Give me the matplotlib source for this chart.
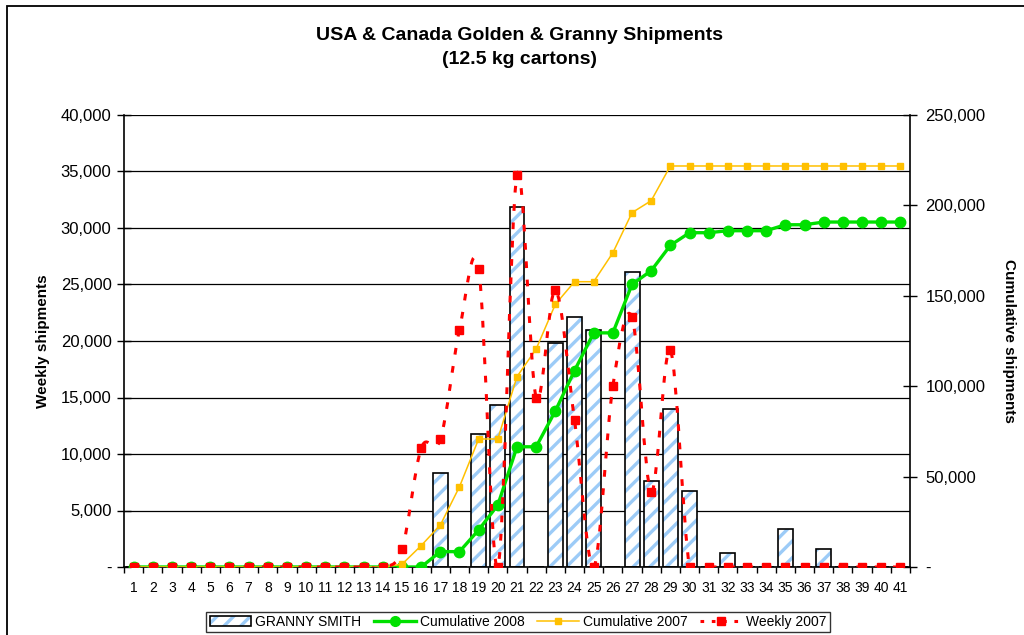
import matplotlib
matplotlib.use("Agg")
import matplotlib.pyplot as plt
from matplotlib.path import Path
from matplotlib.patches import PathPatch, Patch, Rectangle
from matplotlib.lines import Line2D
from matplotlib.ticker import FuncFormatter, MultipleLocator, FixedLocator

plt.rcParams['font.family'] = ['Liberation Sans', 'DejaVu Sans']
plt.rcParams['hatch.linewidth'] = 2.4

weeks = list(range(1, 42))
granny_smith = [0] * 16 + [8300, 0, 11800, 14300, 31900, 0, 19800, 22150, 21000, 0,
                           26100, 7650, 14000, 6750, 0, 1270, 0, 0, 3360, 0, 1620,
                           0, 0, 0, 0]
cum_2008 = [0] * 16 + [8500, 8500, 20500, 34300, 66500, 66500, 86300, 108600, 129500,
                       129500, 156300, 163900, 177900, 184900, 184900, 186000, 186000,
                       186000, 189300, 189300, 190800, 190800, 190800, 190800, 190800]
cum_2007 = [0] * 14 + [1500, 11800, 23200, 44400, 70800, 70800, 105300, 120600, 145300,
                       157800, 157800, 173800, 196000, 202600, 221800] + [221800] * 12
weekly_2007 = [0] * 14 + [1550, 10500, 11300, 21000, 26400, 0, 34700, 15000, 24500,
                          13000, 0, 16000, 22100, 6650, 19200] + [0] * 12

HATCH_BLUE = '#9ccbf7'
GREEN = '#00e000'
YELLOW = '#ffc000'
RED = '#ff0000'
RED_DASH = (0, (2.2, 3.8))


def smooth_path(xs, ys):
    # bezier curve through the points, like excel's "smoothed line"
    pts = list(zip(xs, ys))
    verts = [pts[0]]
    codes = [Path.MOVETO]
    n = len(pts)
    for i in range(n - 1):
        p0 = pts[i - 1] if i > 0 else pts[i]
        p1 = pts[i]
        p2 = pts[i + 1]
        p3 = pts[i + 2] if i + 2 < n else pts[i + 1]
        c1 = (p1[0] + (p2[0] - p0[0]) / 6, p1[1] + (p2[1] - p0[1]) / 6)
        c2 = (p2[0] - (p3[0] - p1[0]) / 6, p2[1] - (p3[1] - p1[1]) / 6)
        verts += [c1, c2, p2]
        codes += [Path.CURVE4] * 3
    return Path(verts, codes)


fig = plt.figure(figsize=(10.24, 6.35), dpi=100)
ax = fig.add_axes([124 / 1024, 1 - 567 / 635, 786 / 1024, 452 / 635])

# outer chart border
fig.patches.append(Rectangle((7 / 1024, -0.05), 1.1, 1 - 6 / 635 + 0.05, transform=fig.transFigure,
                             fill=False, edgecolor='black', linewidth=1.3))

ax.bar(weeks, granny_smith, width=0.78, color='white', edgecolor=HATCH_BLUE, hatch='//',
       linewidth=0, zorder=2)
ax.bar(weeks, granny_smith, width=0.78, fill=False, edgecolor='black', linewidth=1.2, zorder=3)

ax.set_xlim(0.5, 41.5)
ax.set_ylim(0, 40000)
ax.yaxis.set_major_locator(MultipleLocator(5000))
fmt = FuncFormatter(lambda v, p: '-' if v == 0 else f'{int(v):,}')
ax.yaxis.set_major_formatter(fmt)
ax.yaxis.grid(True, color='black', linewidth=0.9)
ax.set_axisbelow(True)
ax.xaxis.set_major_locator(FixedLocator(weeks))
ax.xaxis.set_minor_locator(FixedLocator([w + 0.5 for w in range(0, 42)]))
ax.tick_params(axis='x', which='major', length=0, labelsize=10, pad=10)
ax.tick_params(axis='x', which='minor', length=4, direction='out', width=1)
ax.tick_params(axis='y', length=10, direction='inout', labelsize=12, pad=4, width=1)
for s in ['left', 'bottom']:
    ax.spines[s].set_linewidth(1.2)
ax.spines['top'].set_visible(False)
ax.spines['right'].set_visible(False)
ax.set_ylabel('Weekly shipments', fontsize=11, fontweight='bold', labelpad=8)

ax2 = ax.twinx()
ax2.set_ylim(0, 250000)
ax2.yaxis.set_major_locator(MultipleLocator(50000))
ax2.yaxis.set_major_formatter(fmt)
ax2.tick_params(axis='y', length=10, direction='inout', labelsize=12, pad=6, width=1)
ax2.spines['right'].set_linewidth(1.2)
ax2.spines['top'].set_visible(False)
ax2.spines['left'].set_visible(False)
ax2.spines['bottom'].set_visible(False)
ax2.set_ylabel('Cumulative shipments', fontsize=11, fontweight='bold', rotation=-90, labelpad=22)
ax2.plot(weeks, cum_2008, color=GREEN, linewidth=2.4, marker='o', markersize=7.5, zorder=3)
ax2.plot(weeks, cum_2007, color=YELLOW, linewidth=1.1, marker='s', markersize=5, zorder=4)

ax3 = ax.twinx()
ax3.set_ylim(0, 40000)
ax3.axis('off')
ax3.add_patch(PathPatch(smooth_path(weeks, weekly_2007), fill=False, edgecolor=RED,
                        linewidth=2.2, linestyle=RED_DASH, zorder=3))
ax3.plot(weeks, weekly_2007, linestyle='none', marker='s', markersize=6, color=RED, zorder=4)

fig.text(0.5075, 1 - 35 / 635, 'USA & Canada Golden & Granny Shipments', ha='center', va='center',
         fontsize=14, fontweight='bold')
fig.text(0.5075, 1 - 60 / 635, '(12.5 kg cartons)', ha='center', va='center',
         fontsize=14, fontweight='bold')

handles = [
    (Patch(facecolor='white', edgecolor=HATCH_BLUE, hatch='//', linewidth=0),
     Patch(fill=False, edgecolor='black', linewidth=1.2)),
    Line2D([], [], color=GREEN, linewidth=2.4, marker='o', markersize=7),
    Line2D([], [], color=YELLOW, linewidth=1.1, marker='s', markersize=5),
    Line2D([], [], color=RED, linewidth=2.2, linestyle=(0, (1.2, 2.5)), marker='s', markersize=6),
]
labels = ['GRANNY SMITH', 'Cumulative 2008', 'Cumulative 2007', 'Weekly 2007']
leg = fig.legend(handles, labels, loc='center', bbox_to_anchor=(518 / 1024, 1 - 622 / 635),
                 ncol=4, fontsize=10, frameon=True, fancybox=False, edgecolor='black',
                 handlelength=3.0, handleheight=0.8, handletextpad=0.3, columnspacing=0.9,
                 borderpad=0.25, borderaxespad=0)
leg.get_frame().set_linewidth(1.0)

fig.savefig('out.png', dpi=100)
